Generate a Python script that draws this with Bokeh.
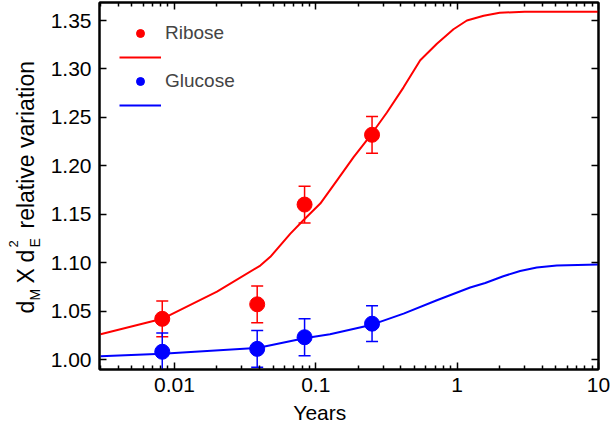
import numpy as np
from bokeh.plotting import figure
from bokeh.layouts import row
from bokeh.models import (ColumnDataSource, Whisker, TeeHead, Legend, LegendItem,
                          LinearAxis, LogAxis, FixedTicker, SingleIntervalTicker,
                          NumeralTickFormatter, CustomJSTickFormatter)
from bokeh.core.properties import value
from bokeh.embed import file_html
from bokeh.resources import INLINE

# ---------------- data ----------------
years_pts = [0.0082, 0.0385, 0.0833, 0.25]
ribose_y = [1.042, 1.057, 1.160, 1.232]
ribose_err = [0.0185, 0.019, 0.019, 0.019]
glucose_y = [1.008, 1.011, 1.023, 1.037]
glucose_err = [0.0195, 0.019, 0.019, 0.0185]

ribose_fit_x = [0.003, 0.0082, 0.020, 0.0405, 0.0477, 0.0661, 0.082, 0.1076, 0.1413,
                0.1851, 0.2427, 0.3185, 0.4177, 0.548, 0.719, 0.942, 1.172, 1.54,
                2.0, 3.0, 5.0, 10.0]
ribose_fit_y = [1.026, 1.042, 1.070, 1.097, 1.106, 1.130, 1.144, 1.161, 1.185,
                1.209, 1.231, 1.255, 1.281, 1.309, 1.326, 1.341, 1.350, 1.355,
                1.358, 1.359, 1.359, 1.359]

glucose_fit_x = [0.003, 0.0082, 0.0386, 0.083, 0.126, 0.25, 0.418, 0.719, 1.236,
                 1.58, 2.12, 2.79, 3.66, 5.07, 10.0]
glucose_fit_y = [1.0035, 1.006, 1.012, 1.022, 1.026, 1.036, 1.0474, 1.0612, 1.0743,
                 1.079, 1.086, 1.0914, 1.0949, 1.097, 1.098]

x_major_ticks = [0.001, 0.01, 0.1, 1, 10]
x_minor_ticks = [m * d for d in [0.001, 0.01, 0.1, 1] for m in range(2, 10)]
y_tick_step = 0.05

series_names = ["Ribose", "Glucose"]
series_colors = ["#FF0000", "#0000FF"]

x_label = "Years"
y_label_text = ["d", "M", "X", "d", "E", "2", "relative variation"]
y_label_kind = ["main", "sub", "main", "main", "sub", "sup", "main"]

FONT = "Liberation Sans"

# ---------------- layout sizes ----------------
W_YLAB = 44
W_MAIN = 569
H = 426
B_TOP = 2
B_BOTTOM = 57

# ---------------- main figure ----------------
p = figure(width=W_MAIN, height=H, x_axis_type="log",
           x_range=(0.00295, 10), y_range=(0.9897, 1.3686),
           output_backend="svg", toolbar_location=None,
           min_border_left=55, min_border_right=15,
           min_border_top=B_TOP, min_border_bottom=B_BOTTOM)
p.grid.visible = False
p.outline_line_color = "black"
p.outline_line_width = 2
p.background_fill_color = "white"
p.border_fill_color = "white"

def style_axis(ax, show_labels):
    ax.axis_line_color = "black"
    ax.axis_line_width = 2
    ax.major_tick_in = 7
    ax.major_tick_out = 0
    ax.minor_tick_in = 4
    ax.minor_tick_out = 0
    ax.major_tick_line_color = "black"
    ax.minor_tick_line_color = "black"
    ax.major_tick_line_width = 1.5
    ax.minor_tick_line_width = 1.5
    if show_labels:
        ax.major_label_text_font = FONT
        ax.major_label_text_font_size = "21px"
        ax.major_label_text_color = "black"
        ax.major_label_standoff = 8
    else:
        ax.major_label_text_font_size = "0px"
        ax.major_label_standoff = 0

xticker = FixedTicker(ticks=x_major_ticks, minor_ticks=x_minor_ticks)
yticker = SingleIntervalTicker(interval=y_tick_step, num_minor_ticks=0)
xfmt = CustomJSTickFormatter(code="return String(tick);")
blank = CustomJSTickFormatter(code="return '';")

xa = p.xaxis[0]
xa.ticker = xticker
xa.formatter = xfmt
style_axis(xa, True)
# non-breaking spaces shift the centred label to the left, as in the original
xa.axis_label = x_label + "\u00a0" * 10
xa.axis_label_text_font = FONT
xa.axis_label_text_font_size = "21px"
xa.axis_label_text_font_style = "normal"
xa.axis_label_text_color = "black"
xa.axis_label_standoff = 6

ya = p.yaxis[0]
ya.ticker = yticker
ya.formatter = NumeralTickFormatter(format="0.00")
style_axis(ya, True)
ya.minor_tick_line_color = None

top = LogAxis(ticker=xticker, formatter=blank)
style_axis(top, False)
p.add_layout(top, "above")
right = LinearAxis(ticker=yticker, formatter=blank)
style_axis(right, False)
right.minor_tick_line_color = None
p.add_layout(right, "right")

# ---------------- glyphs ----------------
lines = []
dots = []
for name, color, fx, fy_, yv, ye in [
        (series_names[0], series_colors[0], ribose_fit_x, ribose_fit_y, ribose_y, ribose_err),
        (series_names[1], series_colors[1], glucose_fit_x, glucose_fit_y, glucose_y, glucose_err)]:
    ln = p.line(fx, fy_, line_color=color, line_width=2)
    src = ColumnDataSource(dict(x=years_pts, y=yv,
                                lo=[a - b for a, b in zip(yv, ye)],
                                hi=[a + b for a, b in zip(yv, ye)]))
    w = Whisker(source=src, base="x", upper="hi", lower="lo", dimension="height",
                line_color=color, line_width=1.5,
                upper_head=TeeHead(size=12, line_color=color, line_width=1.5),
                lower_head=TeeHead(size=12, line_color=color, line_width=1.5))
    p.add_layout(w)
    dt = p.scatter("x", "y", source=src, size=15, fill_color=color, line_color=color)
    lines.append(ln)
    dots.append(dt)

legend = Legend(items=[
    LegendItem(label=series_names[0], renderers=[dots[0]]),
    LegendItem(label=" ", renderers=[lines[0]]),
    LegendItem(label=series_names[1], renderers=[dots[1]]),
    LegendItem(label=" ", renderers=[lines[1]]),
], location="top_left")
legend.margin = 20
legend.padding = 0
legend.spacing = 3
legend.glyph_width = 42
legend.glyph_height = 20
legend.label_standoff = 4
legend.label_text_font = FONT
legend.label_text_font_size = "19px"
legend.border_line_color = None
legend.background_fill_alpha = 0
p.add_layout(legend)

# ---------------- y label strip (rotated, with sub/superscripts) ----------------
# strip frame matches the main frame vertically; y counts pixels up from its bottom
kind_size = {"main": "23px", "sub": "14px", "sup": "13px"}
kind_base = {"main": 25.5, "sub": 34.0, "sup": 12.5}
piece_start = [56, 69, 86, 107, 122, 122, 141]
frame_h = H - B_TOP - B_BOTTOM
ylab_src = ColumnDataSource(dict(
    x=[kind_base[k] for k in y_label_kind],
    y=piece_start,
    text=y_label_text,
    size=[kind_size[k] for k in y_label_kind]))
fy = figure(width=W_YLAB, height=H, x_range=(0, W_YLAB), y_range=(0, frame_h),
            x_axis_type=None, y_axis_type=None, output_backend="svg",
            toolbar_location=None, min_border_left=0, min_border_right=0,
            min_border_top=B_TOP, min_border_bottom=B_BOTTOM)
fy.outline_line_color = None
fy.grid.visible = False
fy.background_fill_color = "white"
fy.border_fill_color = "white"
fy.text(x="x", y="y", text="text", source=ylab_src, angle=np.pi / 2,
        text_font=value(FONT), text_font_size="size", text_baseline="alphabetic",
        text_align="left", text_color="black")

layout = row(fy, p, spacing=0)
open("out.html", "w").write(file_html(layout, INLINE))
